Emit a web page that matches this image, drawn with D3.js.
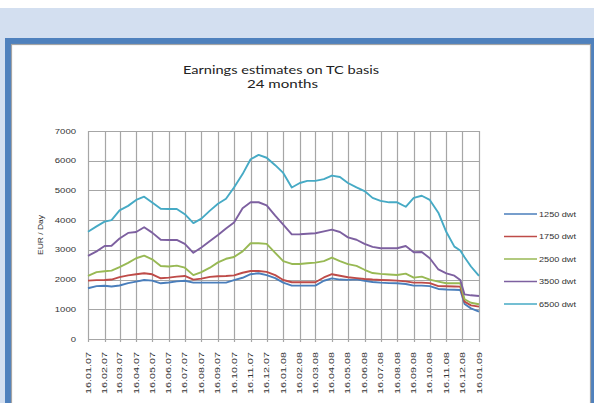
<!DOCTYPE html>
<html><head><meta charset="utf-8">
<script src="https://cdn.jsdelivr.net/npm/d3@7"></script>
<style>html,body{margin:0;padding:0;background:#fff;}svg{display:block;}</style>
</head><body>
<svg id="c" width="594" height="403"></svg>
<script>
const dates = ["2007-01-16","2007-02-01","2007-02-16","2007-03-01","2007-03-16","2007-04-01","2007-04-16","2007-05-01","2007-05-16","2007-06-01","2007-06-16","2007-07-01","2007-07-16","2007-08-01","2007-08-16","2007-09-01","2007-09-16","2007-10-01","2007-10-16","2007-11-01","2007-11-16","2007-12-01","2007-12-16","2008-01-01","2008-01-16","2008-02-01","2008-02-16","2008-03-01","2008-03-16","2008-04-01","2008-04-16","2008-05-01","2008-05-16","2008-06-01","2008-06-16","2008-07-01","2008-07-16","2008-08-01","2008-08-16","2008-09-01","2008-09-16","2008-10-01","2008-10-16","2008-11-01","2008-11-16","2008-12-01","2008-12-12","2008-12-20","2009-01-01","2009-01-16"];
const dwt1250 = [1707,1780,1790,1765,1800,1880,1930,1986,1963,1875,1900,1940,1960,1896,1896,1896,1896,1896,1980,2060,2180,2212,2150,2050,1896,1795,1795,1795,1795,1960,2040,2000,1990,2005,1960,1920,1896,1880,1875,1850,1795,1795,1780,1684,1665,1655,1650,1178,1030,919];
const dwt1750 = [1963,1980,1986,2000,2080,2140,2178,2212,2178,2043,2064,2100,2121,2000,2030,2090,2110,2121,2140,2230,2290,2290,2260,2150,1986,1909,1909,1909,1909,2070,2180,2130,2080,2050,2020,2000,1986,1975,1963,1940,1896,1896,1880,1780,1775,1765,1761,1256,1130,1088];
const dwt2500 = [2121,2250,2280,2300,2420,2560,2717,2805,2680,2458,2440,2470,2400,2150,2250,2400,2580,2700,2760,2950,3222,3222,3200,2900,2620,2525,2525,2550,2569,2620,2737,2620,2520,2460,2330,2220,2190,2170,2155,2200,2064,2098,2000,1930,1875,1875,1875,1337,1220,1168];
const dwt3500 = [2795,2950,3131,3140,3380,3570,3600,3760,3580,3340,3333,3333,3200,2900,3080,3300,3500,3720,3920,4400,4602,4602,4500,4150,3850,3520,3524,3540,3558,3620,3680,3600,3420,3340,3200,3100,3053,3053,3053,3130,2920,2930,2717,2340,2210,2131,1986,1500,1470,1448];
const dwt6500 = [3610,3790,3950,4000,4330,4480,4680,4790,4590,4380,4377,4377,4200,3900,4050,4320,4550,4720,5100,5550,6050,6195,6100,5850,5589,5100,5250,5320,5320,5380,5500,5450,5250,5100,4980,4750,4650,4600,4600,4450,4750,4820,4680,4250,3600,3108,2980,2750,2440,2121];
const seriesNames = ["1250 dwt","1750 dwt","2500 dwt","3500 dwt","6500 dwt"];
const seriesColors = ["#4a7ebb","#be4b48","#98b954","#7d60a0","#46aac5"];
const xTickLabels = ["16.01.07","16.02.07","16.03.07","16.04.07","16.05.07","16.06.07","16.07.07","16.08.07","16.09.07","16.10.07","16.11.07","16.12.07","16.01.08","16.02.08","16.03.08","16.04.08","16.05.08","16.06.08","16.07.08","16.08.08","16.09.08","16.10.08","16.11.08","16.12.08","16.01.09"];
const yTicks = [0,1000,2000,3000,4000,5000,6000,7000];
const titleLines = ["Earnings estimates on TC basis","24 months"];
const yTitle = "EUR / Day";

const svg = d3.select("#c");
svg.append("rect").attr("x",0).attr("y",8).attr("width",594).attr("height",395).attr("fill","#d3dff0");
svg.append("rect").attr("x",5).attr("y",38).attr("width",600).attr("height",400).attr("fill","#4f81bd");
svg.append("rect").attr("x",11.5).attr("y",44.5).attr("width",579).attr("height",400).attr("fill","#fff").attr("stroke","#a5a5a5").attr("stroke-width",1.2);

const parse = d3.timeParse("%Y-%m-%d");
const parseLbl = d3.timeParse("%d.%m.%y");
const x = d3.scaleTime().domain([parse("2007-01-16"), parse("2009-01-16")]).range([88,479]);
const y = d3.scaleLinear().domain([0,7000]).range([339,131]);

const grid = svg.append("g");
grid.selectAll("line.h").data(yTicks).join("line")
  .attr("x1",88).attr("x2",479).attr("y1",d=>Math.round(y(d))+0.5).attr("y2",d=>Math.round(y(d))+0.5)
  .attr("stroke","#a6a6a6").attr("stroke-width",1.2);
grid.selectAll("line.v").data(xTickLabels).join("line")
  .attr("x1",d=>Math.round(x(parseLbl(d)))+0.5).attr("x2",d=>Math.round(x(parseLbl(d)))+0.5)
  .attr("y1",131).attr("y2",342)
  .attr("stroke","#a6a6a6").attr("stroke-width",1.2);

svg.append("g").selectAll("text").data(yTicks).join("text")
  .attr("x",76).attr("y",d=>y(d)+2.5).attr("text-anchor","end")
  .attr("font-family","Liberation Sans, Arial, sans-serif").attr("font-size",7).attr("fill","#333")
  .attr("textLength",d=>String(d).length*5.3).attr("lengthAdjust","spacingAndGlyphs")
  .text(d=>d);

svg.append("g").selectAll("text").data(xTickLabels).join("text")
  .attr("transform",d=>`translate(${x(parseLbl(d))+2.5},352) rotate(-90)`)
  .attr("text-anchor","end")
  .attr("font-family","Liberation Sans, Arial, sans-serif").attr("font-size",7).attr("fill","#333")
  .attr("textLength",42).attr("lengthAdjust","spacingAndGlyphs")
  .text(d=>d);

svg.append("text").attr("transform","translate(43,235) rotate(-90)").attr("text-anchor","middle")
  .attr("font-family","Liberation Sans, Arial, sans-serif").attr("font-size",7.5).attr("fill","#333")
  .attr("textLength",40).attr("lengthAdjust","spacingAndGlyphs")
  .text(yTitle);

svg.append("text").attr("x",281).attr("y",74).attr("text-anchor","middle")
  .attr("font-family","Lato, Liberation Sans, sans-serif").attr("font-size",11).attr("fill","#222")
  .attr("textLength",196).attr("lengthAdjust","spacingAndGlyphs").text(titleLines[0]);
svg.append("text").attr("x",282.5).attr("y",88).attr("text-anchor","middle")
  .attr("font-family","Lato, Liberation Sans, sans-serif").attr("font-size",11).attr("fill","#222")
  .attr("textLength",71).attr("lengthAdjust","spacingAndGlyphs").text(titleLines[1]);

const allSeries = [dwt1250, dwt1750, dwt2500, dwt3500, dwt6500];
const line = d3.line().x((d,i)=>x(parse(dates[i]))).y(d=>y(d));
svg.append("g").selectAll("path").data(allSeries).join("path")
  .attr("d",d=>line(d)).attr("fill","none")
  .attr("stroke",(d,i)=>seriesColors[i]).attr("stroke-width",1.9).attr("stroke-linejoin","round");

const lg = svg.append("g").selectAll("g").data(seriesNames).join("g")
  .attr("transform",(d,i)=>`translate(0,${214+i*22.5})`);
lg.append("line").attr("x1",504).attr("x2",537).attr("y1",0).attr("y2",0)
  .attr("stroke",(d,i)=>seriesColors[i]).attr("stroke-width",1.6);
lg.append("text").attr("x",539).attr("y",2.6)
  .attr("font-family","Liberation Sans, Arial, sans-serif").attr("font-size",7.5).attr("fill","#333")
  .attr("textLength",37).attr("lengthAdjust","spacingAndGlyphs").text(d=>d);
</script>
</body></html>
